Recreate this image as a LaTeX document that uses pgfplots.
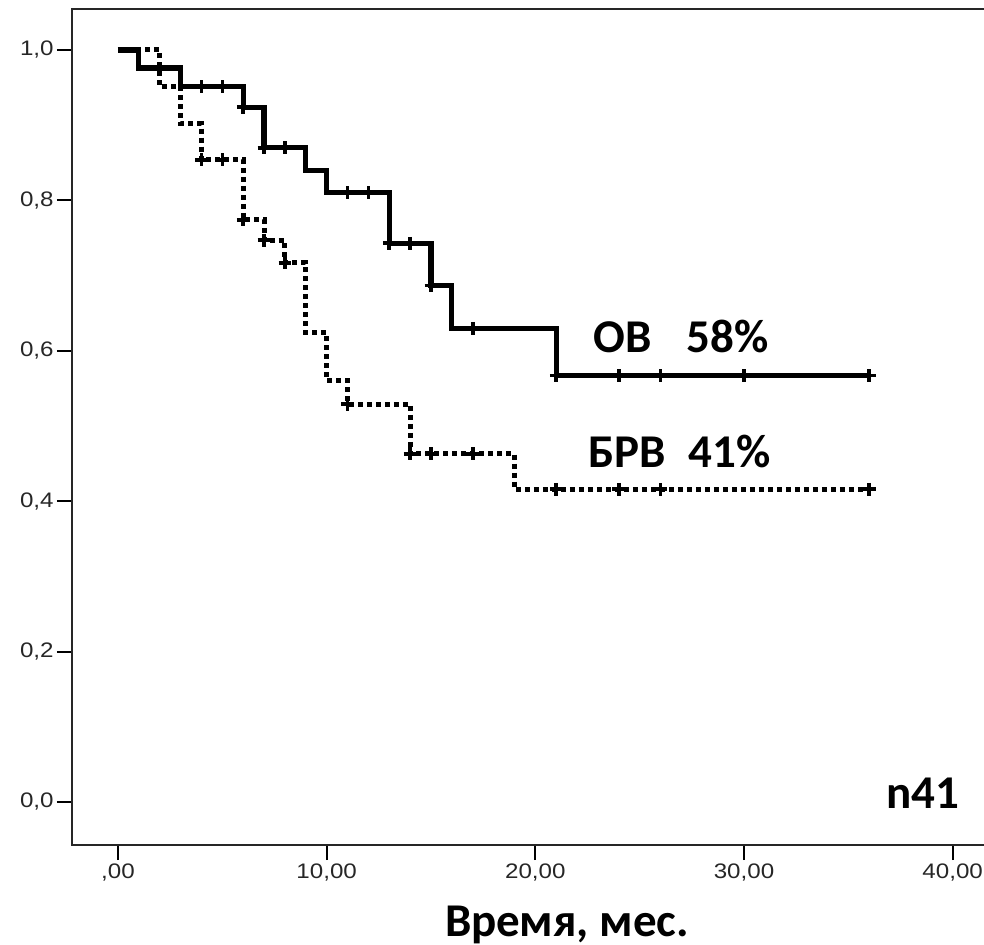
\documentclass[border=0pt]{standalone}
\usepackage{fontspec}
\usepackage{pgfplots}
\usepackage{pgfplotstable}
\pgfplotsset{compat=1.18}
\setmainfont{Carlito}
\newfontfamily\tickfont[FakeStretch=1.15]{Liberation Sans}

\pgfplotstableread{
t s
0 1.000
1 0.976
3 0.951
6 0.924
7 0.870
9 0.840
10 0.810
13 0.743
15 0.687
16 0.630
21 0.567
36 0.567
}\ovsteps

\pgfplotstableread{
t s
4 0.951
5 0.951
6 0.924
7 0.870
8 0.870
11 0.810
12 0.810
13 0.743
14 0.743
15 0.687
17 0.630
21 0.567
24 0.567
26 0.567
30 0.567
36 0.567
}\ovcens

\pgfplotstableread{
t s
0 1.000
2 0.951
3 0.902
4 0.854
6 0.774
7 0.747
8 0.717
9 0.624
10 0.560
11 0.529
14 0.463
19 0.416
36 0.416
}\brvsteps

\pgfplotstableread{
t s
4 0.854
5 0.854
6 0.774
7 0.747
8 0.717
11 0.529
14 0.463
15 0.463
17 0.463
21 0.416
24 0.416
26 0.416
36 0.416
}\brvcens

\begin{document}
\begin{tikzpicture}
\begin{axis}[
  at={(36pt,-422.5pt)}, anchor=south west,
  scale only axis, width=460pt, height=418pt,
  xmin=-2.204, xmax=41.886, ymin=-0.0572, ymax=1.0545,
  xtick={0,10,20,30,40},
  xticklabels={{,00},{10,00},{20,00},{30,00},{40,00}},
  ytick={0,0.2,0.4,0.6,0.8,1},
  yticklabels={{0,0},{0,2},{0,4},{0,6},{0,8},{1,0}},
  xtick pos=left, ytick pos=left,
  tick align=outside, major tick length=7.5pt,
  tick style={line width=1pt, black},
  axis line style={draw=none},
  ticklabel style={font=\tickfont\fontsize{10.5}{12}\selectfont, text=black!85},
  xticklabel style={inner sep=1.5pt},
  yticklabel style={inner sep=1.5pt},
  clip=false,
]
\draw[line width=1pt, black!85] (rel axis cs:1.1,1) -- (rel axis cs:0,1) -- (rel axis cs:0,0) -- (rel axis cs:1.1,0);
\addplot[const plot, line width=2.6pt, black, miter limit=2] table[x=t, y=s] {\ovsteps};
\addplot[only marks, mark=+, mark size=3.2pt, mark options={line width=1.8pt, black}] table[x=t, y=s] {\ovcens};
\addplot[const plot, line width=2.5pt, black, dash pattern=on 2.5pt off 2pt] table[x=t, y=s] {\brvsteps};
\addplot[only marks, mark=+, mark size=3.2pt, mark options={solid, line width=1.8pt, black}] table[x=t, y=s] {\brvcens};
\end{axis}
\begin{scope}[every node/.style={inner sep=0pt, font=\bfseries\fontsize{23.5}{28}\selectfont}]
\node[anchor=base west] at (296.5pt,-176.5pt) {ОВ};
\node[anchor=base west] at (343pt,-176.5pt) {58\%};
\node[anchor=base west] at (294pt,-234pt) {БРВ};
\node[anchor=base west] at (344pt,-234pt) {41\%};
\node[anchor=base east] at (480pt,-404pt) {n41};
\node[anchor=base] at (283.5pt,-468pt) {Время, мес.};
\end{scope}
\pgfresetboundingbox
\path[use as bounding box] (0pt,0pt) rectangle (492pt,-472.5pt);
\end{tikzpicture}
\end{document}
